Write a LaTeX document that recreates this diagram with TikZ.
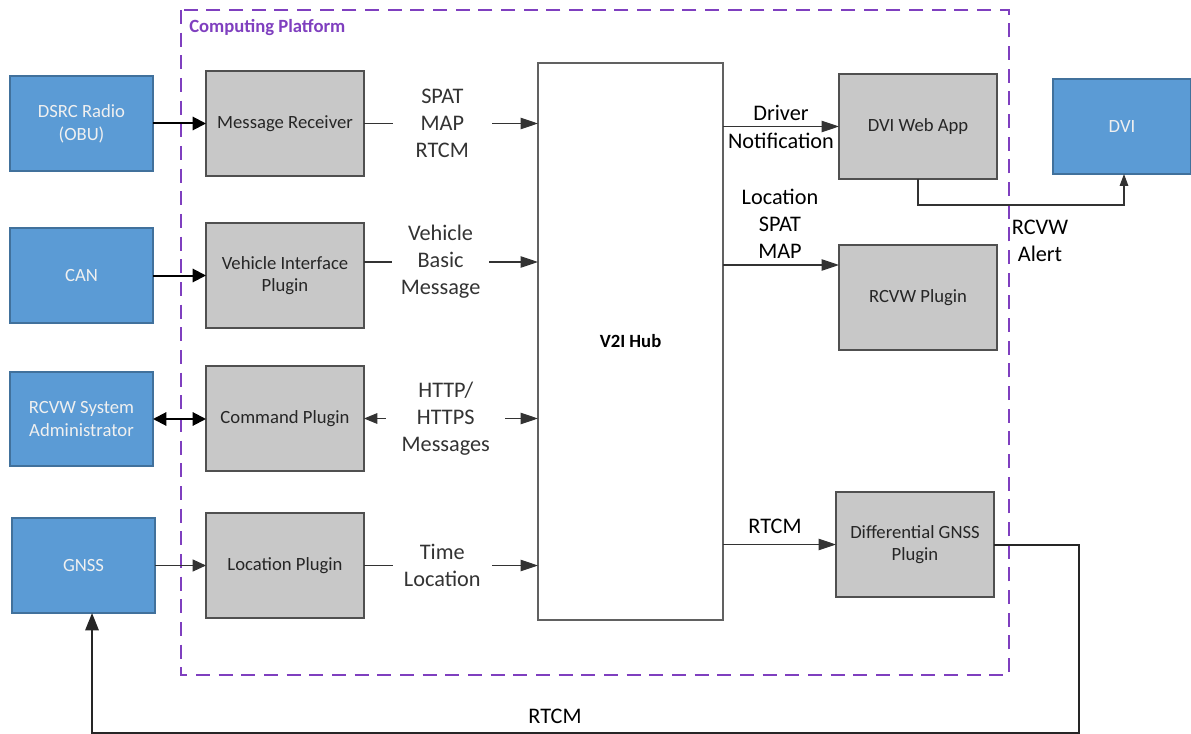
\documentclass[tikz,border=0pt]{standalone}
\usepackage{fontspec}
\setmainfont{Carlito}
\usetikzlibrary{arrows.meta,calc}
\definecolor{bluefill}{HTML}{5B9BD5}
\definecolor{blueline}{HTML}{41719C}
\definecolor{grayfill}{HTML}{C8C8C8}
\definecolor{grayline}{HTML}{505050}
\definecolor{platpurple}{HTML}{7F3FBF}
\definecolor{boxtext}{HTML}{262626}
\newcommand\boxnode[7]{\node[#6, minimum width={(#4-#2)*0.75pt}, minimum height={(#5-#3)*0.75pt}] (#1) at ({(#2+#4)/2},{(#3+#5)/2}) {#7};}
\tikzset{
  bluebox/.style={draw=blueline, fill=bluefill, line width=0.9pt, inner sep=0pt, outer sep=0pt, align=center, text=white!94!black, font=\fontsize{14}{17}\selectfont},
  graybox/.style={draw=grayline, fill=grayfill, line width=0.9pt, inner sep=0pt, outer sep=0pt, align=center, text=boxtext, font=\fontsize{14}{17}\selectfont},
  hubbox/.style={draw=grayline!90, fill=white, line width=1pt, inner sep=0pt, outer sep=0pt, align=center, font=\bfseries\fontsize{14}{17}\selectfont},
  lbl/.style={align=center, font=\fontsize{16.7}{20.3}\selectfont, inner sep=0pt},
  gaplbl/.style={lbl, fill=white, minimum height=70pt},
  thickarr/.style={line width=1.5pt, black, -{Triangle[length=10pt,width=10pt]}},
  thinarr/.style={line width=0.8pt, black!80, -{Triangle[length=13pt,width=8.5pt]}},
  thinarrb/.style={line width=0.8pt, black!80, {Triangle[length=10pt,width=8pt]}-{Triangle[length=13pt,width=8.5pt]}},
}
\begin{document}
\begin{tikzpicture}[x=0.75pt, y=-0.75pt]
\useasboundingbox (0,0) rectangle (1191,734);
% computing platform
\draw[platpurple, line width=1.5pt, dash pattern=on 10.5pt off 6.5pt] (181,10) rectangle (1009,675);
\node[anchor=west, text=platpurple, font=\bfseries\fontsize{14}{17}\selectfont, inner sep=0pt] (cplabel) at (189,28) {Computing Platform};
% blue external boxes
\boxnode{dsrc}{10}{76}{153}{171}{bluebox}{DSRC Radio\\(OBU)}
\boxnode{can}{10}{228}{153}{323}{bluebox}{CAN}
\boxnode{admin}{10}{372}{153}{466}{bluebox}{RCVW System\\Administrator}
\boxnode{gnss}{12}{518}{155}{613}{bluebox}{GNSS}
\boxnode{dvi}{1053}{79}{1191}{174}{bluebox}{DVI}
% gray plugins
\boxnode{mr}{206}{71}{364}{176}{graybox}{Message Receiver}
\boxnode{vip}{206}{223}{364}{328}{graybox}{Vehicle Interface\\Plugin}
\boxnode{cmd}{206}{366}{364}{471}{graybox}{Command Plugin}
\boxnode{lp}{206}{513}{364}{618}{graybox}{Location Plugin}
\boxnode{dviweb}{839}{74}{997}{179}{graybox}{DVI Web App}
\boxnode{rcvw}{839}{245}{997}{350}{graybox}{RCVW Plugin}
\boxnode{dg}{836}{492}{994}{597}{graybox}{Differential GNSS\\Plugin}
% hub
\boxnode{hub}{538}{63}{723}{620}{hubbox}{V2I Hub}
% external to plugins
\draw[thickarr] (dsrc.east) -- (mr.west);
\draw[thickarr] (can.east) -- (vip.west);
\draw[line width=1.5pt, black, {Triangle[length=10pt,width=10pt]}-{Triangle[length=10pt,width=10pt]}] (admin.east) -- (cmd.west |- admin.east);
\draw[thinarr, -{Triangle[length=10pt,width=9pt]}] (gnss.east) -- (lp.west);
% plugins to hub
\draw[thinarr] (mr.east) -- (mr.east -| hub.west)
  node[gaplbl, pos=0.45, minimum width=74pt] (l1) {SPAT\\MAP\\RTCM};
\coordinate (vipo) at (364,262);
\draw[thinarr] (vipo) -- (vipo -| hub.west)
  node[gaplbl, pos=0.44, minimum width=73pt] (l2) {Vehicle\\Basic\\Message};
\draw[thinarrb] (cmd.east) -- (cmd.east -| hub.west)
  node[gaplbl, pos=0.47, minimum width=89pt] (l3) {HTTP/\\HTTPS\\Messages};
\draw[thinarr] (lp.east) -- (lp.east -| hub.west)
  node[gaplbl, pos=0.45, minimum width=74pt, minimum height=50pt] (l4) {Time\\Location};
% hub to right plugins
\draw[thinarr] (dviweb.west -| hub.east) -- (dviweb.west);
\node[lbl] (l5) at (781,127) {Driver\\[0.5pt]Notification};
\draw[thinarr] (hub.east |- {0,265}) -- (rcvw.west |- {0,265});
\node[lbl] (l6) at (780,224) {Location\\SPAT\\MAP};
\draw[thinarr] (dg.west -| hub.east) -- (dg.west);
\node[lbl] (l7) at (775,526) {RTCM};
% DVI web app to DVI
\draw[line width=0.8pt, black!80, -{Triangle[length=9pt,width=6.5pt]}] (dviweb.south) -- ++(0,26) -| ([xshift=1.5pt]dvi.south);
\node[lbl] (l8) at (1040,241) {RCVW\\Alert};
% DGNSS back to GNSS
\coordinate (c1) at (1079,733);
\draw[line width=1.5pt, black!85, -{Triangle[length=13pt,width=10pt]}] (dg.east) -| (c1) -| ([xshift=6.4pt]gnss.south);
\node[lbl] (l9) at (555,716) {RTCM};
\end{tikzpicture}
\end{document}
